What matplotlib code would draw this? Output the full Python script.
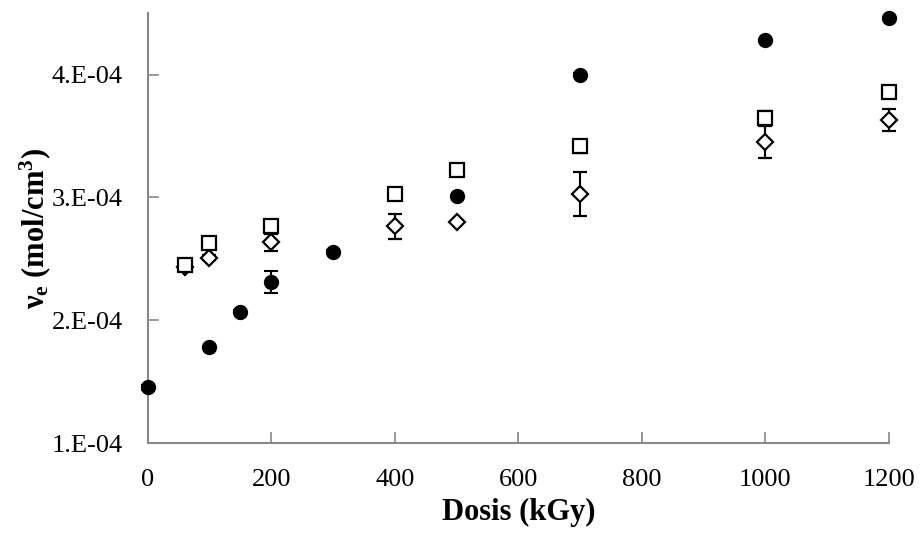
import matplotlib
matplotlib.use("Agg")
import matplotlib.pyplot as plt
from matplotlib.ticker import FuncFormatter

plt.rcParams['font.family'] = ['Liberation Serif', 'DejaVu Serif']
plt.rcParams['mathtext.fontset'] = 'custom'
plt.rcParams['mathtext.rm'] = 'Liberation Serif'
plt.rcParams['mathtext.bf'] = 'Liberation Serif:bold'
plt.rcParams['mathtext.it'] = 'Liberation Serif:italic'

# Series: filled circles
dose_circ = [0, 100, 150, 200, 300, 500, 700, 1000, 1200]
ve_circ = [1.455e-4, 1.78e-4, 2.07e-4, 2.31e-4, 2.555e-4, 3.01e-4, 4.0e-4, 4.28e-4, 4.46e-4]
err_circ = [0.02e-4, 0.01e-4, 0.01e-4, 0.09e-4, 0.02e-4, 0.01e-4, 0.01e-4, 0.01e-4, 0.01e-4]

# Series: open squares
dose_sq = [60, 100, 200, 400, 500, 700, 1000, 1200]
ve_sq = [2.45e-4, 2.625e-4, 2.765e-4, 3.03e-4, 3.22e-4, 3.415e-4, 3.65e-4, 3.855e-4]
err_sq = [0.03e-4, 0.04e-4, 0.04e-4, 0.03e-4, 0.03e-4, 0.05e-4, 0.05e-4, 0.03e-4]

# Series: open diamonds
dose_dia = [60, 100, 200, 400, 500, 700, 1000, 1200]
ve_dia = [2.43e-4, 2.51e-4, 2.635e-4, 2.765e-4, 2.80e-4, 3.025e-4, 3.45e-4, 3.63e-4]
err_dia = [0.02e-4, 0.02e-4, 0.07e-4, 0.10e-4, 0.01e-4, 0.18e-4, 0.13e-4, 0.09e-4]

xticks = [0, 200, 400, 600, 800, 1000, 1200]
yticks = [1e-4, 2e-4, 3e-4, 4e-4]

fig = plt.figure(figsize=(9.23, 5.36), dpi=100)
ax = fig.add_axes([0.160, 0.1735, 0.803, 0.802])

ekw = dict(ecolor='black', elinewidth=1.5, capsize=5, capthick=1.5, linestyle='none')
ax.errorbar(dose_dia, ve_dia, yerr=err_dia, marker='D', markersize=8,
            markerfacecolor='white', markeredgecolor='black', markeredgewidth=1.6, zorder=3, **ekw)
ax.errorbar(dose_sq, ve_sq, yerr=err_sq, marker='s', markersize=10.5,
            markerfacecolor='white', markeredgecolor='black', markeredgewidth=1.6, zorder=3, **ekw)
ax.errorbar(dose_circ, ve_circ, yerr=err_circ, marker='o', markersize=10,
            markerfacecolor='black', markeredgecolor='black', zorder=4, **ekw)

ax.set_xlim(0, 1200)
ax.set_ylim(1e-4, 4.5e-4)
ax.set_xticks(xticks)
ax.set_yticks(yticks)
ax.yaxis.set_major_formatter(FuncFormatter(lambda v, p: f"{v*1e4:.0f}.E-04"))

for s in ['top', 'right']:
    ax.spines[s].set_visible(False)
for s in ['left', 'bottom']:
    ax.spines[s].set_color('#888888')
    ax.spines[s].set_linewidth(1.5)
    ax.spines[s].set_zorder(1)
ax.tick_params(direction='in', length=8, width=1.2, color='#888888',
               labelsize=19, labelcolor='black')
ax.tick_params(axis='x', pad=19)
ax.tick_params(axis='y', pad=18)

ax.set_xlabel('Dosis (kGy)', fontsize=22, fontweight='bold', labelpad=5)
ax.set_ylabel(r'ν$_\mathbf{e}$ (mol/cm$^\mathbf{3}$)', fontsize=22, fontweight='bold', labelpad=-1)

for c in ax.get_children():
    try:
        c.set_clip_on(False)
    except Exception:
        pass

fig.savefig('out.png', dpi=100)
